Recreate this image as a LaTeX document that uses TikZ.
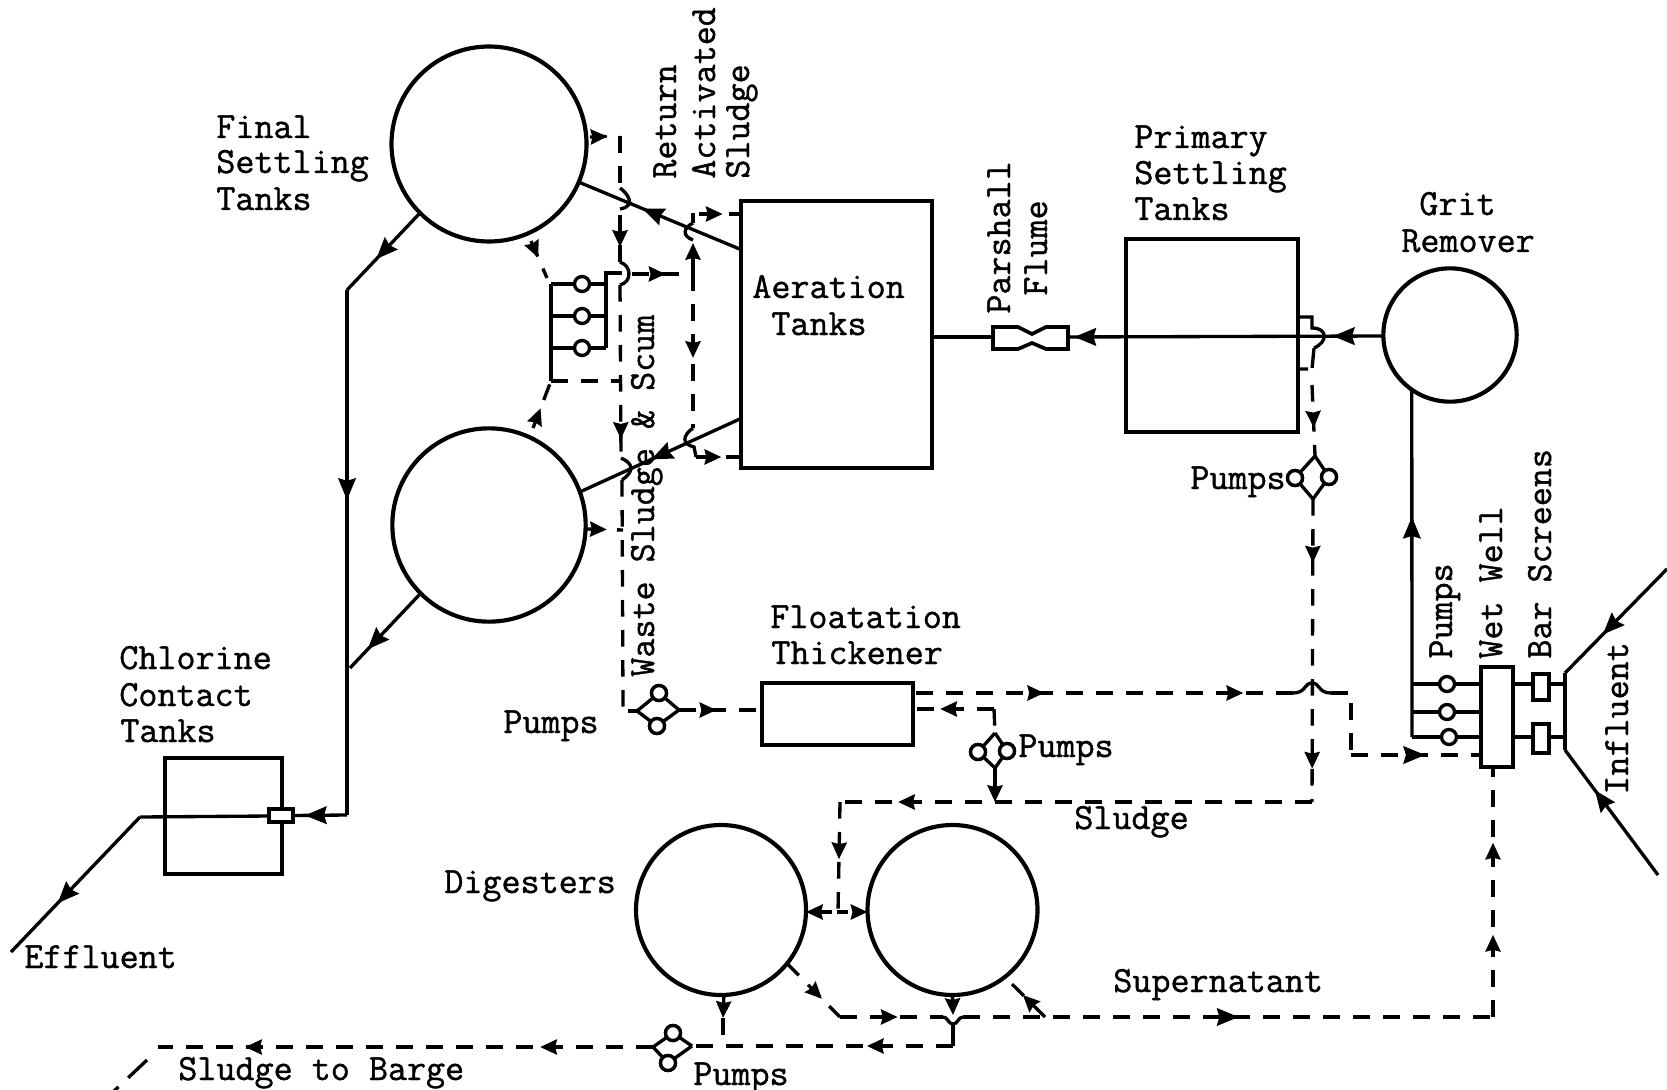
\documentclass[tikz,border=0pt]{standalone}
\usepackage{fontspec}
\newfontfamily\plantfont{Latin Modern Mono}[RawFeature={embolden=1.1}]
\usetikzlibrary{arrows.meta,decorations.markings,fit}
\tikzset{
  x=0.6pt,y=-0.6pt,
  flowtip/.tip={Stealth[length=13pt,width=10.5pt,inset=1.5pt]},
  smalltip/.tip={Stealth[length=10pt,width=9pt,inset=1pt]},
  pipe/.style={line width=2pt,black,line join=miter},
  dashpipe/.style={pipe,dash pattern=on 10pt off 8pt},
  hop/.style={line width=2pt,black},
  tipat/.style={postaction={decorate,decoration={markings,mark=at position #1 with {\arrow{flowtip}}}}},
  dtipat/.style={postaction={decorate,decoration={markings,mark=at position #1 with {\arrow{smalltip}}}}},
  tank/.style={circle,draw,line width=2.5pt,inner sep=0pt,outer sep=0pt,minimum size=#1},
  box/.style={draw,line width=2.4pt,inner sep=0pt,outer sep=0pt,fill=white},
  openbox/.style={draw,line width=2.4pt,inner sep=0pt,outer sep=0pt},
  pump/.style={circle,draw,fill=white,line width=2pt,inner sep=0pt,outer sep=0pt,minimum size=9pt},
  lbl/.style={anchor=base west,inner sep=0pt,font=\plantfont\fontsize{22.2pt}{24pt}\selectfont},
  lblr/.style={lbl,rotate=90},
}
\begin{document}
\begin{tikzpicture}
\useasboundingbox (0,0) rectangle (1667,1090);
% ---- tanks
\node[tank=117pt] (ft) at (489,144) {};
\node[tank=116pt] (fb) at (489,525) {};
\node[tank=80pt]  (gr) at (1450,335) {};
\node[tank=102pt]   (dl) at (721,910) {};
\node[tank=102pt]   (dr) at (952.5,910) {};
\coordinate (ata1) at (741,201); \coordinate (ata2) at (932,468);
\node[openbox,fit=(ata1)(ata2)] (at) {};
\coordinate (pra1) at (1126,239); \coordinate (pra2) at (1298,432);
\node[openbox,fit=(pra1)(pra2)] (pr) {};
\coordinate (fta1) at (762,683); \coordinate (fta2) at (913,745);
\node[openbox,fit=(fta1)(fta2)] (ft2) {};
\coordinate (cla1) at (165,758); \coordinate (cla2) at (282,874);
\node[openbox,fit=(cla1)(cla2)] (cl) {};
% ---- main flow, grit to aeration
\coordinate (grw) at (1383,336);
\coordinate (fle) at (1068,337);
\coordinate (flw) at (993,337);
\draw[pipe,tipat=.16,tipat=.98] (gr.west |- grw) -- (fle);
\draw[pipe] (flw) -- (at.east |- flw);
\draw[line width=2.2pt,fill=white] (993,327) -- (1018,327) -- (1032,334) -- (1046,327) -- (1068,327) -- (1068,349) -- (1046,349) -- (1032,343) -- (1018,349) -- (993,349) -- cycle;
% ---- aeration to final tanks
\coordinate (ata) at (742,250); \coordinate (atb) at (742,418);
\draw[pipe,tipat=.61] (ata) -- (ft.-23);
\draw[pipe,tipat=.56] (atb) -- (fb.20);
% ---- final tanks to chlorine
\coordinate (fcj) at (347,290);
\coordinate (fcl) at (350,668);
\coordinate (fcb) at (347,815);
\coordinate (vale) at (293,815.5);
\coordinate (valw) at (269,816);
\coordinate (efj) at (140,817);
\coordinate (efe) at (11,952);
\draw[pipe,tipat=.6] (ft.225) -- (fcj);
\draw[pipe,tipat=.75] (fb.225) -- (fcl);
\draw[pipe,tipat=.4] (fcj) -- (fcb);
\draw[pipe,tipat=.78] (fcb) -- (vale);
\coordinate (vala1) at (269,809); \coordinate (vala2) at (293,822);
\node[box,line width=1.9pt,fit=(vala1)(vala2)] (val) {};
\draw[pipe] (valw) -- (efj);
\draw[pipe,tipat=.64] (efj) -- (efe);
% ---- return and waste sludge line, final-tank side
\coordinate (s1) at (590,137); \coordinate (s2) at (620,136);
\coordinate (s3) at (620,188); \coordinate (s4) at (620,209);
\coordinate (s5) at (620,215); \coordinate (s6) at (620,262);
\coordinate (s7) at (620,285); \coordinate (s8) at (621,458);
\coordinate (s9) at (622,480); \coordinate (s10) at (623,710);
\coordinate (s11) at (587,529); \coordinate (s12) at (623,530);
\draw[dashpipe,dtipat=.58] (s1) -- (s2);
\draw[dashpipe] (s2) -- (s3);
\draw[hop] (s3) .. controls (626,192) and (638,206) .. (s4);
\draw[dashpipe,dtipat=.68] (s5) -- (s6);
\draw[hop] (s6) .. controls (632,266) and (632,282) .. (s7);
\draw[dashpipe,dtipat=.89] (s7) -- (s8);
\draw[hop] (s8) .. controls (632,463) and (636,470) .. (s9);
\draw[dashpipe] (s9) -- (s10);
\draw[dashpipe,dtipat=.55] (s11) -- (s12);
% ---- scum pumps
\coordinate (g1) at (551,284); \coordinate (g2) at (551,316); \coordinate (g3) at (551,348);
\coordinate (g4) at (551,381);
\coordinate (h1) at (606,284); \coordinate (h2) at (606,316); \coordinate (h3) at (606,348);
\coordinate (h0) at (606,273); \coordinate (h00) at (622,273);
\draw[pipe] (g1) -- (g4);
\draw[pipe] (h3) -- (h0) -- (h00);
\draw[pipe] (g1) -- (h1); \draw[pipe] (g2) -- (h2); \draw[pipe] (g3) -- (h3);
\node[pump] (sp1) at (582,284) {};
\node[pump] (sp2) at (582,316) {};
\node[pump] (sp3) at (582,348) {};
\coordinate (q1) at (531,241); \coordinate (q2) at (547,278);
\coordinate (q3) at (533,428); \coordinate (q4) at (551,381);
\coordinate (q5) at (621,381);
\draw[dashpipe,dtipat=.45] (q1) -- (q2);
\draw[dashpipe,dtipat=.42] (q3) -- (q4);
\draw[dashpipe] (q4) -- (q5);
% ---- return to aeration
\coordinate (r1) at (632,274); \coordinate (r2) at (693,274);
\coordinate (r3) at (693,243); \coordinate (r4) at (693,428);
\coordinate (r5) at (693,223); \coordinate (r6) at (693,240);
\coordinate (r7) at (693,213); \coordinate (r8) at (694,447);
\coordinate (r9) at (696,457);
\coordinate (r10) at (742,214); \coordinate (r11) at (742,457); \coordinate (r12) at (699,214);
\draw[dashpipe,dtipat=.55] (r1) -- (r2);
\draw[dashpipe,-smalltip] (r2) -- (r3);
\draw[dashpipe,dtipat=.545] (r2) -- (r4);
\draw[hop] (r5) .. controls (683,228) and (682,236) .. (r6);
\draw[hop] (r7) -- (r5);
\draw[hop] (r4) .. controls (682,436) and (682,444) .. (r8) -- (r9);
\draw[dashpipe,dtipat=.55] (r12) -- (r10);
\draw[dashpipe,dtipat=.55] (r9) -- (r11);
% ---- pumps, waste sludge to thickener
\coordinate (wa) at (637,711); \coordinate (wb) at (679,710);
\coordinate (wc) at (628,711);
\draw[pipe] (wc) -- (wa);
\node[pump] (wp1) at (659,693) {};
\node[pump] (wp2) at (657,726) {};
\draw[pipe] (wa) -- (wp1) -- (wb) -- (wp2) -- (wa);
\node[pump] at (wp1) {}; \node[pump] at (wp2) {};
\draw[dashpipe,dtipat=.45] (wb) -- (ft2.west |- wb);
% ---- primary sludge
\coordinate (p1) at (1298,317); \coordinate (p2) at (1312,317);
\coordinate (p3) at (1312,328); \coordinate (p4) at (1314,348);
\coordinate (p5) at (1312,369); \coordinate (p6) at (1298,369);
\coordinate (p7) at (1312,385);
\coordinate (pa) at (1315,456); \coordinate (pb) at (1313,499);
\coordinate (p8) at (1312,802);
\draw[hop] (p1) -- (p2) -- (p3) .. controls (1328,328) and (1328,342) .. (p4);
\draw[hop,dash pattern=on 12pt off 3pt] (p4) -- (p5) -- (p6);
\draw[dashpipe,dtipat=.6] (p7) -- (pa);
\node[pump] (pp1) at (1295,478) {};
\node[pump] (pp2) at (1329,477) {};
\draw[pipe] (pa) -- (pp1) -- (pb) -- (pp2) -- (pa);
\node[pump] at (pp1) {}; \node[pump] at (pp2) {};
\draw[dashpipe,dtipat=.21,dtipat=.89] (pb) -- (p8);
% ---- thickener to wet well
\coordinate (t1) at (916,693); \coordinate (t2) at (1293,693);
\coordinate (t3) at (1331,693); \coordinate (t4) at (1351,693);
\coordinate (t5) at (1351,755);
\draw[dashpipe,dtipat=.34,dtipat=.868] (t1) -- (t2);
\draw[hop] (t2) .. controls (1306,693) and (1304,683) .. (1312,683) .. controls (1320,683) and (1318,693) .. (t3);
\draw[dashpipe] (t3) -- (t4) -- (t5);
% ---- wet well, pumps
\coordinate (wwa1) at (1481,667); \coordinate (wwa2) at (1513,767);
\node[box,fit=(wwa1)(wwa2)] (ww) {};
\draw[dashpipe,tipat=.57] (t5) -- (ww.west |- t5);
\coordinate (m1) at (1412,684); \coordinate (m2) at (1412,712); \coordinate (m3) at (1412,737);
\draw[pipe,tipat=.634] (m3) -- (gr.235);
\draw[pipe] (m1) -- (ww.west |- m1);
\draw[pipe] (m2) -- (ww.west |- m2);
\draw[pipe] (m3) -- (ww.west |- m3);
\node[pump] (w1) at (1447,684) {};
\node[pump] (w2) at (1447,712) {};
\node[pump] (w3) at (1449,737) {};
% ---- bar screens and influent
\coordinate (ba1) at (1533,674); \coordinate (ba2) at (1549,700);
\node[box,fit=(ba1)(ba2)] (bs1) {};
\coordinate (bb1) at (1533,724); \coordinate (bb2) at (1549,753);
\node[box,fit=(bb1)(bb2)] (bs2) {};
\coordinate (in1) at (1565,673); \coordinate (in2) at (1565,750);
\coordinate (in3) at (1667,569); \coordinate (in4) at (1658,875);
\coordinate (in5) at (1565,684); \coordinate (in6) at (1565,737);
\draw[pipe] (ww.east |- in5) -- (bs1.west |- in5);
\draw[pipe] (bs1.east |- in5) -- (in5);
\draw[pipe] (ww.east |- in6) -- (bs2.west |- in6);
\draw[pipe] (bs2.east |- in6) -- (in6);
\draw[pipe,line width=2.4pt] (in1) -- (in2);
\draw[pipe,tipat=.63] (in3) -- (in1);
\draw[pipe,tipat=.68] (in4) -- (in2);
% ---- thickener pumps and sludge to digesters
\coordinate (u1) at (916,709); \coordinate (u2) at (994,709);
\coordinate (ua) at (995,733); \coordinate (ub) at (995,768); \coordinate (uc) at (995,802);
\draw[dashpipe,dtipat=.69] (u2) -- (u1);
\draw[dashpipe] (u2) -- (ua);
\node[pump] (tp1) at (978,752) {};
\node[pump] (tp2) at (1007,751) {};
\draw[pipe] (ua) -- (tp1) -- (ub) -- (tp2) -- (ua);
\node[pump] at (tp1) {}; \node[pump] at (tp2) {};
\draw[pipe,-smalltip] (ub) -- (uc);
\coordinate (v1) at (840,802); \coordinate (v2) at (838,912);
\draw[dashpipe,dtipat=.877] (p8) -- (v1);
\draw[dashpipe,dtipat=.52] (v1) -- (v2);
\draw[pipe,dash pattern=on 7pt off 3pt,smalltip-smalltip] (dl.east |- v2) -- (dr.west |- v2);
% ---- digester outlets
\coordinate (d1) at (723,1018); \coordinate (d2) at (723,1046);
\coordinate (d3) at (953,1015); \coordinate (d4) at (953,1024); \coordinate (d5) at (953,1046);
\coordinate (n1) at (840,1017); \coordinate (n2) at (943,1017); \coordinate (n3) at (963,1017);
\coordinate (n4) at (1045,1017); \coordinate (n5) at (1493,1017); \coordinate (n6) at (1493,768);
\draw[pipe,-smalltip] (dl.-88) -- (d1);
\draw[pipe,-smalltip] (dr.south) -- (d3);
\draw[dashpipe] (d1) -- (d2);
\draw[pipe] (d4) -- (d5);
\draw[hop] (n2) .. controls (948,1017) and (948,1024) .. (d4) .. controls (958,1024) and (958,1017) .. (n3);
\draw[dashpipe,dtipat=.66] (dl.-39) -- (n1);
\draw[dashpipe,dtipat=.56] (n1) -- (n2);
\draw[dashpipe,tipat=.52] (n3) -- (n5);
\draw[dashpipe,dtipat=.55] (n4) -- (dr.-52);
\draw[dashpipe,dtipat=.33,dtipat=.7] (n5) -- (n6);
% ---- barge line
\coordinate (b1) at (692,1046); \coordinate (b2) at (653,1047); \coordinate (b3) at (158,1047);
\coordinate (b4) at (147,1060); \coordinate (b5) at (112,1093);
\draw[dashpipe,dtipat=.33] (d5) -- (b1);
\node[pump] (bp1) at (673,1033) {};
\node[pump] (bp2) at (668,1063) {};
\draw[pipe] (b1) -- (bp1) -- (b2) -- (bp2) -- (b1);
\node[pump] at (bp1) {}; \node[pump] at (bp2) {};
\draw[dashpipe,dtipat=.228,dtipat=.824] (b2) -- (b3);
\draw[pipe,dash pattern=on 15.5pt off 8pt] (b4) -- (b5);
% ---- labels
\node[lbl] (l1) at (216,138) {Final};
\node[lbl] (l2) at (216,173) {Settling};
\node[lbl] (l3) at (216,210) {Tanks};
\node[lbl] (l4) at (1134,148) {Primary};
\node[lbl] (l5) at (1134,184) {Settling};
\node[lbl] (l6) at (1134,220) {Tanks};
\node[lbl] (l7) at (1419,215) {Grit};
\node[lbl] (l8) at (1401,252) {Remover};
\node[lbl] (l9) at (752,298) {Aeration};
\node[lbl] (l10) at (771,335) {Tanks};
\node[lbl] (l11) at (1190,489) {Pumps};
\node[lbl] (l12) at (770,628) {Floatation};
\node[lbl] (l13) at (771,664) {Thickener};
\node[lbl] (l14) at (503,733) {Pumps};
\node[lbl] (l15) at (1018,757) {Pumps};
\node[lbl] (l16) at (1074,829) {Sludge};
\node[lbl] (l17) at (119,669) {Chlorine};
\node[lbl] (l18) at (119,706) {Contact};
\node[lbl] (l19) at (120,742) {Tanks};
\node[lbl] (l20) at (24,968) {Effluent};
\node[lbl] (l21) at (444,893) {Digesters};
\node[lbl] (l22) at (1113,992) {Supernatant};
\node[lbl] (l23) at (178,1080) {Sludge to Barge};
\node[lbl] (l24) at (693,1085) {Pumps};
\node[lblr] (r1l) at (676,179) {Return};
\node[lblr] (r2l) at (715,179) {Activated};
\node[lblr] (r3l) at (749,179) {Sludge};
\node[lblr] (r4l) at (1010,314) {Parshall};
\node[lblr] (r5l) at (1047,296) {Flume};
\node[lblr] (r6l) at (654,677) {Waste Sludge \& Scum};
\node[lblr] (r7l) at (1452,659) {Pumps};
\node[lblr] (r8l) at (1502,659) {Wet Well};
\node[lblr] (r9l) at (1551,659) {Bar Screens};
\node[lblr] (r10l) at (1628,795) {Influent};
\end{tikzpicture}
\end{document}
